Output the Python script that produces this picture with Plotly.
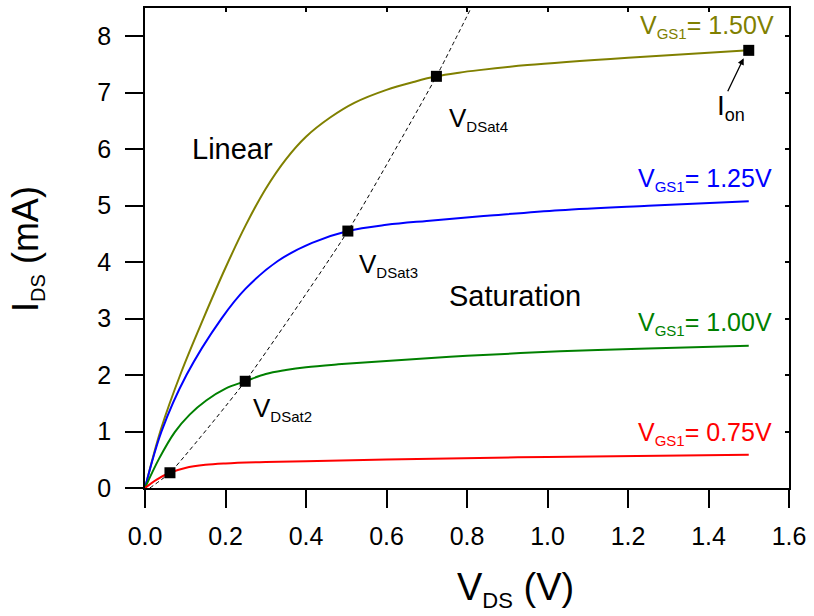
import plotly.graph_objects as go

# ---------------- data ----------------
vds_150 = [0, 0.040, 0.090, 0.145, 0.200, 0.250, 0.300, 0.350, 0.400, 0.460, 0.520, 0.600, 0.670,
           0.724, 0.780, 0.830, 0.950, 1.200, 1.5]
ids_150 = [0, 1.05, 2.05, 3.00, 3.90, 4.65, 5.30, 5.82, 6.22, 6.56, 6.82, 7.05, 7.195,
           7.29, 7.355, 7.40, 7.49, 7.62, 7.75]

vds_125 = [0, 0.041, 0.103, 0.190, 0.250, 0.330, 0.415, 0.504, 0.600, 0.700, 0.850, 1.030, 1.250, 1.5]
ids_125 = [0, 1.00, 2.00, 3.00, 3.53, 4.02, 4.34, 4.55, 4.66, 4.73, 4.82, 4.92, 5.00, 5.08]

vds_100 = [0, 0.035, 0.074, 0.111, 0.152, 0.200, 0.249, 0.300, 0.350, 0.400, 0.480, 0.600, 0.800,
           1.031, 1.250, 1.5]
ids_100 = [0, 0.52, 0.99, 1.30, 1.55, 1.76, 1.89, 2.02, 2.09, 2.14, 2.19, 2.25, 2.34,
           2.42, 2.47, 2.52]

vds_075 = [0, 0.029, 0.062, 0.100, 0.150, 0.200, 0.300, 0.400, 0.600, 1.000, 1.5]
ids_075 = [0, 0.15, 0.27, 0.355, 0.41, 0.435, 0.46, 0.475, 0.505, 0.55, 0.59]

vdsat_line_x = [0.012, 0.062, 0.249, 0.504, 0.724, 0.810]
vdsat_line_y = [0.0, 0.27, 1.89, 4.55, 7.29, 8.5]

vdsat_x = [0.062, 0.249, 0.504, 0.724]
vdsat_y = [0.27, 1.89, 4.55, 7.29]

ion_x = [1.5]
ion_y = [7.75]

x_ticks = [0.0, 0.2, 0.4, 0.6, 0.8, 1.0, 1.2, 1.4, 1.6]
x_ticklabels = ["0.0", "0.2", "0.4", "0.6", "0.8", "1.0", "1.2", "1.4", "1.6"]
y_ticks = [0, 1, 2, 3, 4, 5, 6, 7, 8]

label_rest = ["= 1.50V", "= 1.25V", "= 1.00V", "= 0.75V"]

# ---------------- styling ----------------
FONT = "Liberation Sans, Arial, sans-serif"
OLIVE, BLUE, GREEN, RED = "#808000", "#0000ff", "#008000", "#ff0000"
W, H = 814, 616
ML, MR, MT, MB = 145, 20, 8, 128
PW, PH = W - ML - MR, H - MT - MB


def px(xp):
    return (xp - ML) / PW


def py(yp):
    return (H - MB - yp) / PH


fig = go.Figure()

for xs, ys, col in [(vds_150, ids_150, OLIVE), (vds_125, ids_125, BLUE),
                    (vds_100, ids_100, GREEN), (vds_075, ids_075, RED)]:
    fig.add_trace(go.Scatter(x=xs, y=ys, mode="lines",
                             line=dict(color=col, width=2, shape="spline", smoothing=1.0),
                             hoverinfo="skip", showlegend=False))

fig.add_trace(go.Scatter(x=vdsat_line_x, y=vdsat_line_y, mode="lines",
                         line=dict(color="black", width=1, dash="4px,3px", shape="spline", smoothing=0.5),
                         hoverinfo="skip", showlegend=False))

fig.add_trace(go.Scatter(x=vdsat_x + ion_x, y=vdsat_y + ion_y, mode="markers",
                         marker=dict(symbol="square", size=11, color="black"),
                         hoverinfo="skip", showlegend=False))

# dummy trace for mirrored (inside-tick) axes
fig.add_trace(go.Scatter(x=[0], y=[0], xaxis="x2", yaxis="y2", mode="markers",
                         marker=dict(opacity=0), hoverinfo="skip", showlegend=False))

axis_common = dict(showline=True, linecolor="black", linewidth=1.5, showgrid=False,
                   zeroline=False, tickcolor="black", tickwidth=1.5)

fig.update_layout(
    width=W, height=H,
    margin=dict(l=ML, r=MR, t=MT, b=MB),
    plot_bgcolor="white", paper_bgcolor="white",
    font=dict(family=FONT, color="black"),
    xaxis=dict(range=[0, 1.6], tickvals=x_ticks, ticktext=x_ticklabels, ticks="outside",
               ticklen=18, ticklabelstandoff=7, tickfont=dict(size=25, family=FONT), **axis_common),
    yaxis=dict(range=[0, 8.5], tickvals=y_ticks, ticks="outside", ticklen=18,
               ticklabelstandoff=9, tickfont=dict(size=25, family=FONT), **axis_common),
    xaxis2=dict(range=[0, 1.6], tickvals=x_ticks, ticks="inside", ticklen=4, side="top",
                overlaying="x", showticklabels=False, anchor="y", **axis_common),
    yaxis2=dict(range=[0, 8.5], tickvals=y_ticks, ticks="inside", ticklen=4, side="right",
                overlaying="y", showticklabels=False, anchor="x", **axis_common),
)

ann = []


def add_text(text, x, y, size, color="black", xanchor="left", yanchor="middle", angle=0):
    ann.append(dict(text=text, x=x, y=y, xref="paper", yref="paper", showarrow=False,
                    xanchor=xanchor, yanchor=yanchor, textangle=angle,
                    font=dict(size=size, color=color, family=FONT)))


def sub_label(main, sub, rest, sub_size):
    return f"{main}<sub><span style='font-size:{sub_size}px'>{sub}</span></sub>{rest}"


# curve labels (right aligned)
label_pos = [(781, 36.7, OLIVE), (779, 189.3, BLUE), (779, 333.3, GREEN), (779, 443.3, RED)]
for (xr, base, col), rest in zip(label_pos, label_rest):
    add_text(sub_label("V", "GS1", rest, 15), px(xr), py(base - 10), 25, col, xanchor="right")

# region labels
add_text("Linear", px(233.3), py(159.3 - 10), 29, xanchor="center")
add_text("Saturation", px(518), py(305.7 - 10), 29, xanchor="center")

# VDSat labels
for k, (xl, base) in zip(["4", "3", "2"], [(450.7, 126.7), (360, 273.3), (253.3, 416.7)]):
    add_text(sub_label("V", "DSat" + k, "", 15), px(xl - 1), py(base - 8), 26)

# Ion label and arrow
add_text("I<sub><span style='font-size:18px'>on</span></sub>", px(719), py(115 - 8), 28)
ann.append(dict(x=px(748.3), y=py(58.3), xref="paper", yref="paper",
                ax=731.7 - 748.3, ay=92.7 - 58.3, axref="pixel", ayref="pixel",
                text="", showarrow=True, arrowhead=2, arrowsize=1, arrowwidth=1.3,
                arrowcolor="black", standoff=0, startstandoff=0))

# axis titles
add_text(sub_label("V", "DS", " (V)", 22), px(457), py(600 - 10.6), 38)
add_text(sub_label("I", "DS", " (mA)", 20), px(26), py(249), 36, xanchor="center", angle=-90)

fig.update_layout(annotations=ann)

post = ("document.documentElement.style.overflow='hidden';"
        "document.body.style.margin='0';document.body.style.padding='0';"
        "document.body.style.overflow='hidden';")
fig.write_html("out.html", post_script=post, config={"displayModeBar": False})
